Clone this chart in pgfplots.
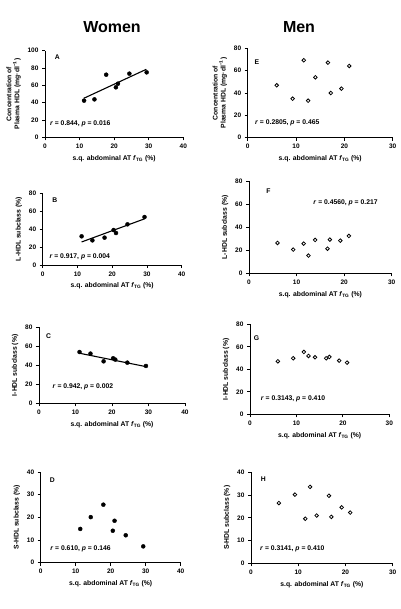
\documentclass[border=0pt]{standalone}
\usepackage{fontspec}
\setmainfont{Liberation Sans}
\usepackage{pgfplots}
\pgfplotsset{compat=1.18}
\pgfplotsset{
  panel/.style={
    scale only axis, axis lines=left, axis line style={-, line width=0.9pt},
    enlargelimits=false, clip=false,
    tick align=outside, tick style={black, line width=0.8pt}, major tick length=3pt,
    /pgf/number format/assume math mode=true,
    ticklabel style={font=\fontsize{6.5}{7}\selectfont\bfseries},
    label style={font=\fontsize{6.8}{8}\selectfont\bfseries},
    ylabel style={align=center},
    xlabel={s.q. abdominal AT \textit{f}\textsubscript{TG} (\%)},
    xmin=0,
  },
  women/.style={panel, xmax=40, xtick={0,10,20,30,40}},
  men/.style={panel, xmax=30, xtick={0,10,20,30}},
  fpt/.style={only marks, mark=*, mark size=2pt, black, mark options={fill=black}},
  opt/.style={only marks, mark=o, mark size=1.8pt, black, mark options={line width=0.8pt}},
  reg/.style={black, line width=1.1pt, no marks},
}
\newcommand{\ann}{\fontsize{6.8}{8}\selectfont\bfseries}
\begin{document}
\begin{tikzpicture}
\useasboundingbox (0,0) rectangle (400pt,-609pt);
\node[font=\fontsize{16}{18}\selectfont\bfseries] at (112pt,-27pt) {Women};
\node[font=\fontsize{16}{18}\selectfont\bfseries] at (299pt,-27pt) {Men};

% A
\begin{axis}[women, at={(45pt,-137.3pt)}, anchor=south west, width=138.3pt, height=86.6pt,
  ymin=0, ymax=100, ytick={0,20,40,60,80,100},
  ylabel={Concentration of\\Plasma HDL (mg·dl\textsuperscript{−1})}]
\addplot[fpt] coordinates {(11.3,42.3) (14.3,43.8) (17.7,72.3) (20.5,57.7) (21.1,61.9) (24.4,73.5) (29.4,75.0)};
\addplot[reg] coordinates {(11.2,45) (29.3,78.5)};
\node[anchor=center, font=\ann] at (axis cs:3.6,93) {A};
\node[anchor=west, font=\ann, inner sep=0pt] at (axis cs:1.4,16) {\textit{r} = 0.844, \textit{p} = 0.016};
\end{axis}

% B
\begin{axis}[women, at={(42.7pt,-265pt)}, anchor=south west, width=139pt, height=71.7pt,
  ymin=0, ymax=80, ytick={0,20,40,60,80},
  ylabel={L-HDL subclass (\%)}]
\addplot[fpt] coordinates {(11.2,32.0) (14.3,27.5) (17.8,30.5) (20.4,39.0) (21.1,35.7) (24.4,45.4) (29.3,53.5)};
\addplot[reg] coordinates {(11.2,25.7) (29.3,51.5)};
\node[anchor=center, font=\ann] at (axis cs:3.5,72.5) {B};
\node[anchor=west, font=\ann, inner sep=0pt] at (axis cs:1.9,9.3) {\textit{r} = 0.917, \textit{p} = 0.004};
\end{axis}

% C
\begin{axis}[women, at={(39pt,-403.3pt)}, anchor=south west, width=146pt, height=76pt,
  ymin=0, ymax=80, ytick={0,20,40,60,80},
  ylabel={I-HDL subclass (\%)}]
\addplot[fpt] coordinates {(11.1,54.0) (14.1,52.3) (17.7,44.2) (20.3,47.4) (20.9,46.0) (24.2,42.8) (29.3,39.3)};
\addplot[reg] coordinates {(11.1,52.7) (29.3,38.6)};
\node[anchor=center, font=\ann] at (axis cs:2.6,71) {C};
\node[anchor=west, font=\ann, inner sep=0pt] at (axis cs:3.7,17.5) {\textit{r} = 0.942, \textit{p} = 0.002};
\end{axis}

% D
\begin{axis}[women, at={(40.7pt,-562.7pt)}, anchor=south west, width=140pt, height=90.7pt,
  ymin=0, ymax=40, ytick={0,10,20,30,40},
  ylabel={S-HDL subclass (\%)}]
\addplot[fpt] coordinates {(11.3,14.9) (14.3,20.1) (17.9,25.6) (20.6,14.1) (21.1,18.5) (24.3,12.1) (29.3,7.2)};
\node[anchor=center, font=\ann] at (axis cs:3.3,36.5) {D};
\node[anchor=west, font=\ann, inner sep=0pt] at (axis cs:2.7,6) {\textit{r} = 0.610, \textit{p} = 0.146};
\end{axis}

% E
\begin{axis}[men, at={(247.7pt,-137.7pt)}, anchor=south west, width=145pt, height=89.4pt,
  ymin=0, ymax=80, ytick={0,20,40,60,80},
  ylabel={Concentration of\\Plasma HDL (mg·dl\textsuperscript{−1})}]
\addplot[opt] coordinates {(6.0,46.9) (9.3,34.9) (11.6,69.3) (12.5,33.1) (14.0,54.0) (16.6,67.2) (17.2,40.0) (19.4,43.9) (21.0,64.2)};
\node[anchor=center, font=\ann] at (axis cs:1.9,67.5) {E};
\node[anchor=west, font=\ann, inner sep=0pt] at (axis cs:1.5,13.4) {\textit{r} = 0.2805, \textit{p} = 0.465};
\end{axis}

% F
\begin{axis}[men, at={(249pt,-273.3pt)}, anchor=south west, width=142.7pt, height=92pt,
  ymin=0, ymax=80, ytick={0,20,40,60,80},
  ylabel={L-HDL subclass (\%)}]
\addplot[opt] coordinates {(6.0,26.4) (9.3,20.6) (11.5,25.8) (12.5,15.4) (13.9,29.0) (16.5,21.4) (17.0,29.3) (19.2,28.4) (21.0,32.5)};
\node[anchor=center, font=\ann] at (axis cs:4.1,71.6) {F};
\node[anchor=west, font=\ann, inner sep=0pt] at (axis cs:13.5,60.9) {\textit{r} = 0.4560, \textit{p} = 0.217};
\end{axis}

% G
\begin{axis}[men, at={(250pt,-414.3pt)}, anchor=south west, width=139.3pt, height=90pt,
  ymin=0, ymax=80, ytick={0,20,40,60,80},
  ylabel={I-HDL subclass (\%)}]
\addplot[opt] coordinates {(6.0,47.1) (9.3,49.8) (11.6,55.4) (12.6,51.9) (14.0,50.7) (16.4,49.8) (17.1,51.0) (19.2,47.7) (20.9,45.9)};
\node[anchor=center, font=\ann] at (axis cs:1.4,68) {G};
\node[anchor=west, font=\ann, inner sep=0pt] at (axis cs:2.3,13.6) {\textit{r} = 0.3143, \textit{p} = 0.410};
\end{axis}

% H
\begin{axis}[men, at={(251pt,-563.3pt)}, anchor=south west, width=141.7pt, height=91pt,
  ymin=0, ymax=40, ytick={0,10,20,30,40},
  ylabel={S-HDL subclass (\%)}]
\addplot[opt] coordinates {(5.9,26.5) (9.3,30.2) (11.5,19.6) (12.5,33.6) (13.9,21.0) (16.5,29.7) (17.0,20.4) (19.2,24.6) (21.0,22.3)};
\node[anchor=center, font=\ann] at (axis cs:2.6,36.9) {H};
\node[anchor=west, font=\ann, inner sep=0pt] at (axis cs:1.9,6.2) {\textit{r} = 0.3141, \textit{p} = 0.410};
\end{axis}
\end{tikzpicture}
\end{document}
